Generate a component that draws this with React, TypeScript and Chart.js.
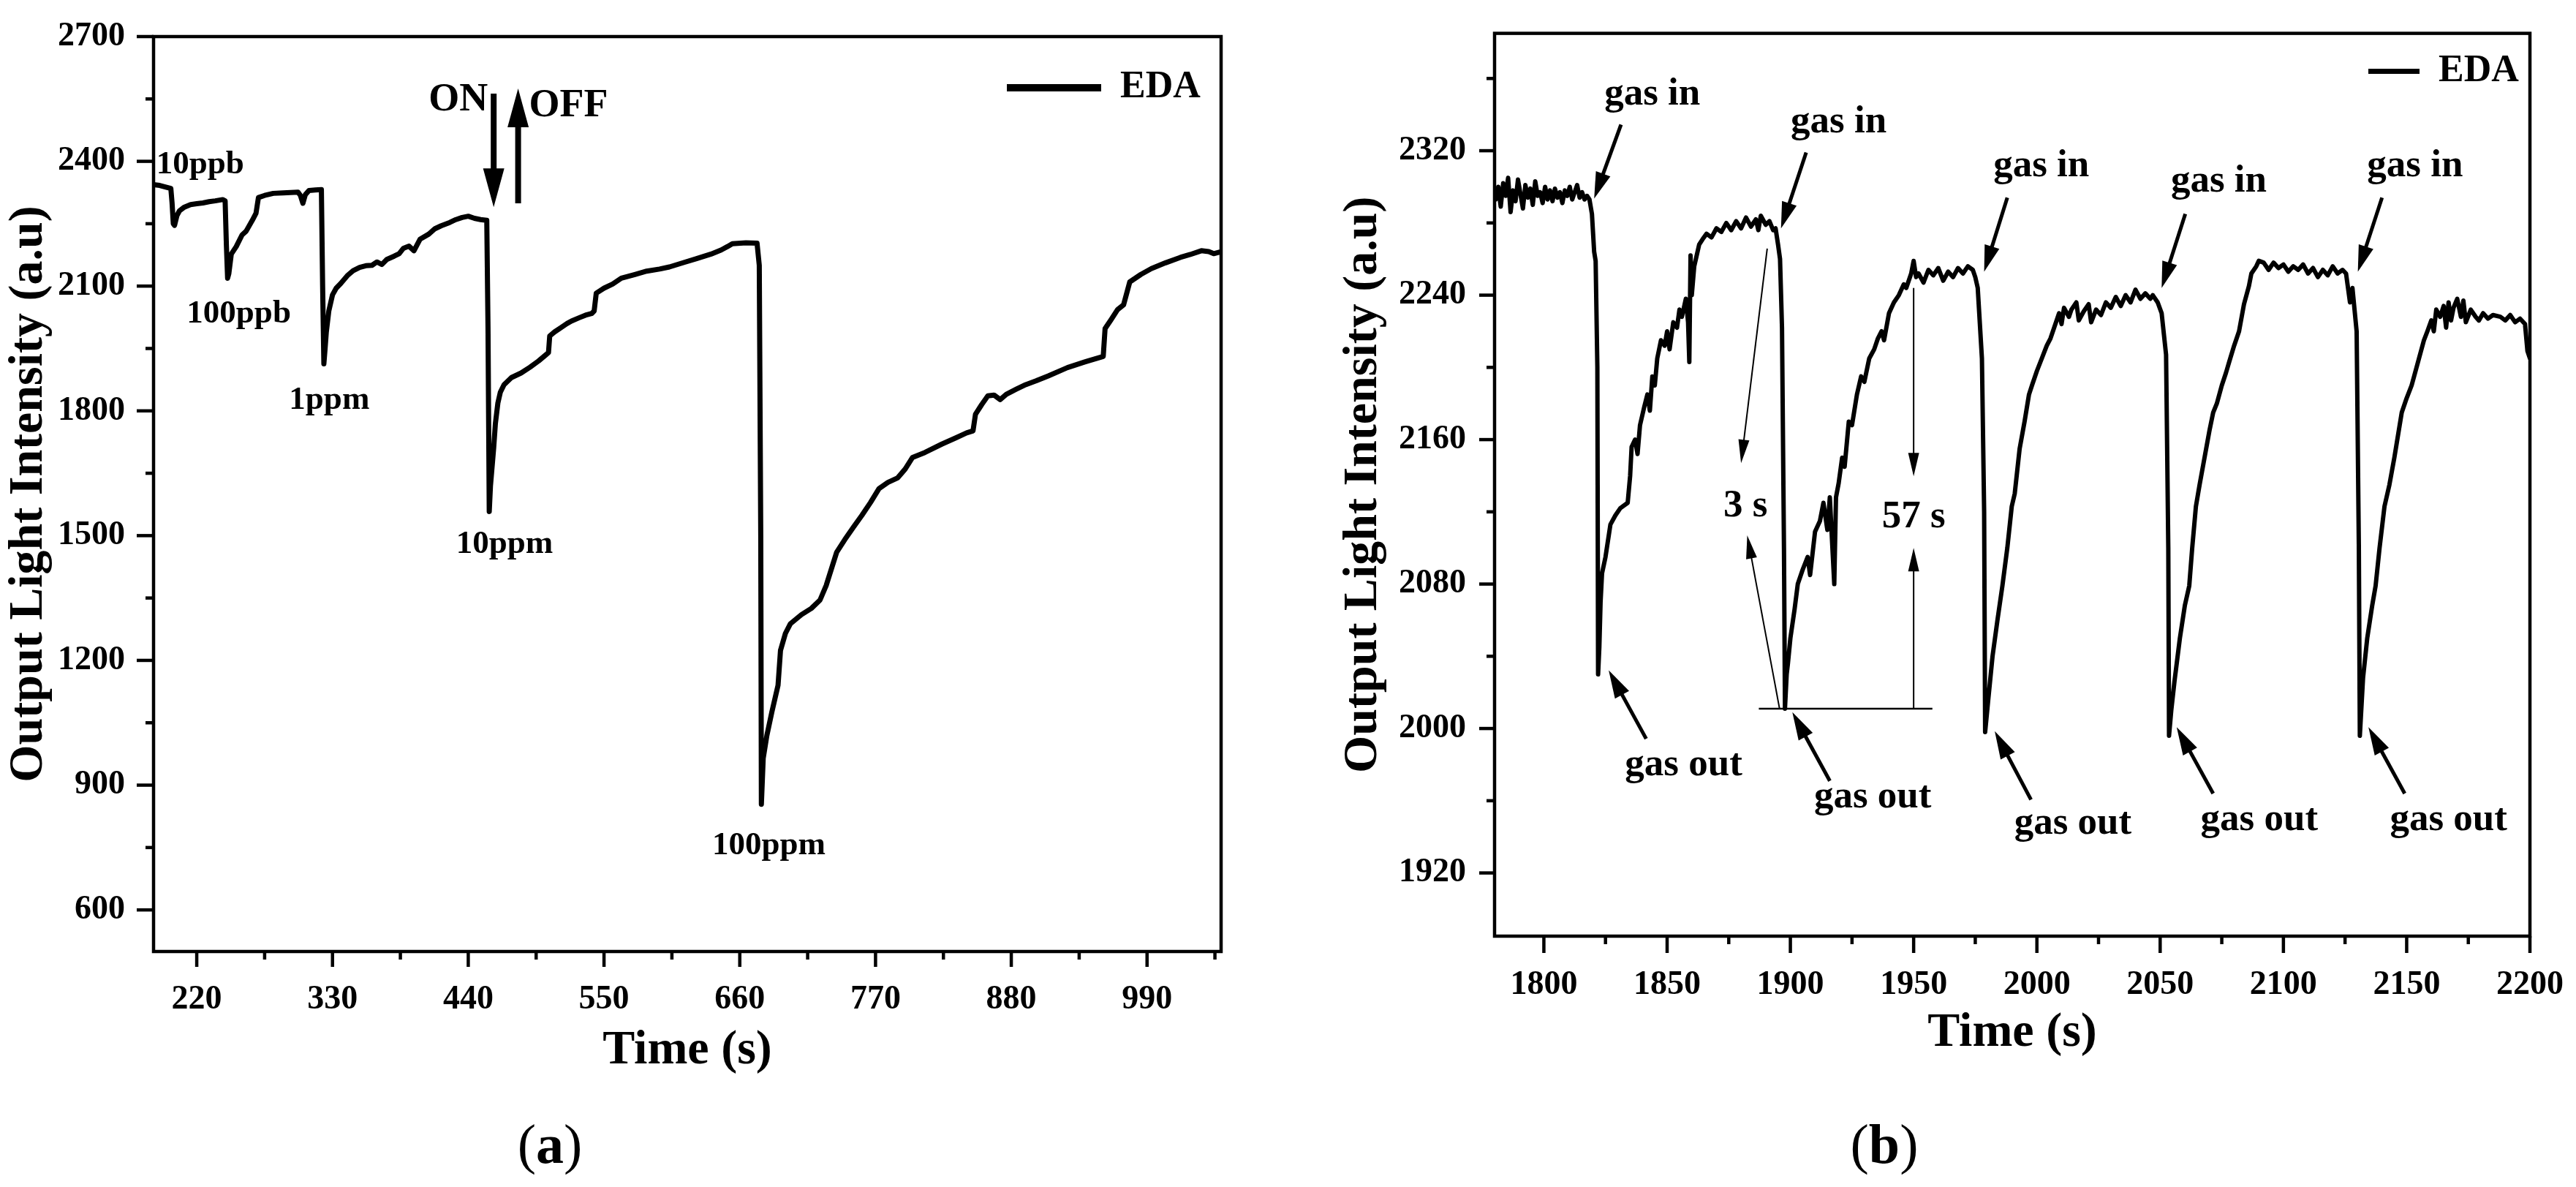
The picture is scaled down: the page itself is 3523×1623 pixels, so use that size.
import React, { useEffect, useRef } from 'react';
import { Chart, registerables } from 'chart.js';

Chart.register(...registerables);

const SERIF = '"Liberation Serif", "Times New Roman", serif';

// ---------------- Panel (a) data ----------------
const timeA = [
  185, 190, 195, 199, 200, 201, 202, 204, 206, 210, 215, 220, 225, 230, 235, 241,
  243, 244, 245, 246, 248, 252, 256.7, 260, 265, 268, 270, 275, 282, 290, 296, 302, 304, 306, 308, 311, 316, 321,
  322, 323, 324, 325, 327, 330, 333, 336.6, 342, 346.7, 352, 357, 362, 366, 370, 374, 380, 384, 387.5, 392, 396, 401, 408, 413, 418, 425, 430, 435, 440, 445, 450, 455,
  456, 457, 458, 460.6, 462, 464, 466, 469, 475, 482.8, 490, 497, 503, 505, 506, 510, 515, 520, 523.6, 530, 535, 540, 542, 543.7, 550, 557, 564, 575, 584.6, 595, 603, 615, 625, 636.7, 645, 650, 654, 665, 674,
  675.8, 677, 677.5, 679, 682, 686, 691, 693, 697, 701, 710, 718, 725, 730, 738.5, 745, 752, 759, 766, 772.8, 780, 788, 794, 800, 810, 823.7, 835, 843.8, 849, 851, 856, 861, 866, 871, 876, 884, 891.7, 900, 910, 925.5, 940, 954.5, 956, 961, 966, 971, 976, 985, 993.5, 1005, 1017, 1025, 1034, 1040, 1044, 1049,
];
const intensityA = [
  2344, 2342, 2338, 2335, 2300, 2250, 2246, 2270, 2281, 2290, 2296, 2298, 2300, 2303, 2305, 2308,
  2305, 2200, 2119, 2130, 2177, 2195, 2223, 2232, 2258, 2275, 2313, 2318, 2323, 2324, 2325, 2326, 2318, 2299, 2320, 2330, 2331, 2332,
  2100, 1913, 1950, 1990, 2040, 2079, 2095, 2106, 2125, 2137, 2145, 2149, 2150, 2158, 2152, 2164, 2172, 2178, 2191, 2196, 2185, 2213, 2225, 2238, 2245, 2253, 2260, 2265, 2268, 2263, 2260, 2258,
  2000, 1558, 1620, 1711, 1770, 1819, 1845, 1863, 1880, 1891, 1905, 1920, 1935, 1940, 1980, 1990, 2000, 2010, 2016, 2024, 2030, 2034, 2040, 2083, 2095, 2105, 2119, 2128, 2136, 2141, 2146, 2157, 2166, 2177, 2187, 2195, 2202, 2204, 2203,
  2150, 1500, 854, 965, 1020, 1076, 1140, 1224, 1265, 1288, 1310, 1325, 1345, 1380, 1460, 1490, 1520, 1549, 1580, 1613, 1628, 1639, 1660, 1688, 1700, 1720, 1735, 1747, 1752, 1792, 1815, 1836, 1838, 1827, 1840, 1852, 1863, 1872, 1884, 1904, 1918, 1931, 1998, 2020, 2043, 2055, 2110, 2128, 2142, 2156, 2169, 2176, 2185, 2183, 2178, 2182,
];
const xMajorA = [220, 330, 440, 550, 660, 770, 880, 990];
const xMinorA = [275, 385, 495, 605, 715, 825, 935, 1045];
const yMajorA = [600, 900, 1200, 1500, 1800, 2100, 2400, 2700];
const yMinorA = [750, 1050, 1350, 1650, 1950, 2250, 2550];

const noteTextA = ['10ppb', '100ppb', '1ppm', '10ppm', '100ppm'];
const noteTimeA = [222.8, 254.1, 327.4, 469.4, 683.6];
const noteLevelA = [2371, 2012, 1805, 1458, 734];
const switchTextA = ['ON', 'OFF'];
const switchTimeA = [431.9, 521.2];
const switchLevelA = [2523, 2508];
const switchArrowTimeA = [460.6, 480.4];
const switchArrowFromA = [2563, 2299];
const switchArrowToA = [2290, 2575];

// ---------------- Panel (b) data ----------------
const timeB = [
  1780.5, 1781.5, 1782.5, 1783.5, 1784.5, 1785.5, 1786.5, 1787.5, 1788.5, 1789.5, 1790.5, 1791.5, 1792.5, 1793.5, 1794.5, 1795.5, 1796.5, 1797.5, 1798.5, 1799.5, 1800.5, 1801.5, 1802.5, 1803.5, 1804.5, 1805.5, 1806.5, 1807.5, 1808.5, 1809.5, 1810.5, 1811.5, 1812.5, 1813.5, 1814.5, 1815.5, 1816.5, 1817.5, 1818.5,
  1819.5, 1820.4, 1821, 1821.7, 1822, 1822.5, 1823, 1823.6, 1825, 1827, 1829, 1831, 1834, 1835, 1835.6, 1837, 1838, 1839, 1840.7, 1842, 1843, 1844, 1845, 1846, 1847.5, 1849, 1850, 1851, 1852.5, 1854, 1855, 1856, 1857.6, 1858.5, 1859, 1859.5, 1860, 1861, 1862, 1863, 1864.4, 1866, 1868, 1870, 1872, 1874, 1876, 1878, 1880, 1882, 1884, 1886, 1887, 1888, 1890, 1891.5, 1893, 1894, 1895, 1895.8, 1896.6,
  1897.4, 1897.8, 1898.5, 1899, 1900, 1901.7, 1903, 1905, 1907, 1908, 1910, 1912, 1913.4, 1915, 1916, 1917.8, 1918.5, 1919.6, 1921, 1922, 1923.7, 1925, 1927, 1928.7, 1930, 1932, 1934, 1935.5, 1937, 1938, 1940, 1942, 1944, 1946, 1947, 1949, 1950, 1951, 1952, 1954, 1956, 1958, 1960, 1962, 1964, 1966, 1968, 1970, 1972, 1974, 1975, 1976, 1977.7,
  1978.6, 1979, 1980.2, 1982, 1984, 1986, 1988, 1989.8, 1991, 1993, 1995, 1996.8, 1998, 2000, 2002, 2004, 2005.5, 2007, 2009, 2010, 2011, 2013, 2014, 2016, 2017, 2019, 2021, 2022, 2024, 2026, 2028, 2030, 2032, 2034, 2036, 2038, 2040, 2042, 2044, 2046, 2047, 2049, 2050.6, 2052.4,
  2053.3, 2053.6, 2054.5, 2055.8, 2058, 2060, 2061.8, 2063, 2064.5, 2066, 2068, 2070, 2071.5, 2073, 2075, 2076.7, 2078, 2080, 2082, 2084, 2086, 2087, 2089, 2090, 2092, 2094, 2096, 2098, 2100, 2102, 2104, 2106, 2108, 2110, 2112, 2114, 2116, 2118, 2120, 2122, 2124, 2125.4, 2127, 2128, 2129.7,
  2130.6, 2131, 2132.3, 2134, 2136, 2137.4, 2139, 2141, 2143, 2145, 2148, 2150, 2152, 2153, 2155, 2157, 2158.4, 2160, 2161, 2162, 2163.6, 2165, 2166, 2167, 2168, 2169, 2170.5, 2172, 2173, 2174, 2176, 2178, 2179.3, 2181, 2183, 2185, 2188, 2190, 2192, 2194, 2196, 2198, 2199, 2200,
];
const intensityB = [
  2293, 2300, 2289, 2302, 2295, 2305, 2286, 2298, 2292, 2304, 2296, 2288, 2301, 2294, 2299, 2290, 2303, 2295, 2297, 2291, 2300, 2293, 2298, 2292, 2299, 2294, 2297, 2291, 2298, 2295, 2300, 2293, 2297, 2301, 2294, 2297, 2293, 2295, 2293,
  2285, 2264, 2259, 2200, 2030, 2045, 2070, 2086, 2095, 2113, 2118, 2122, 2125, 2140, 2156, 2160, 2152, 2168, 2178, 2185, 2176, 2195, 2190, 2205, 2215, 2212, 2220, 2210, 2225, 2222, 2232, 2228, 2238, 2225, 2203, 2262, 2240, 2256, 2262, 2268, 2271, 2274, 2272, 2277, 2275, 2280, 2276, 2281, 2277, 2283, 2278, 2282, 2276, 2284, 2279, 2281, 2276, 2277, 2268, 2260, 2222,
  2100, 2011, 2030, 2036, 2050, 2066, 2080, 2088, 2095, 2085, 2109, 2115, 2125, 2110, 2128, 2080, 2128, 2136, 2150, 2145, 2170, 2168, 2185, 2195, 2192, 2205, 2210, 2216, 2220, 2215, 2230, 2236, 2240, 2246, 2244, 2252, 2259, 2250, 2252, 2247, 2254, 2251, 2255, 2248, 2253, 2250, 2255, 2252, 2256, 2254, 2250, 2244, 2205,
  2120, 1998, 2015, 2040, 2060, 2079, 2100, 2123, 2130, 2155, 2170, 2185, 2190, 2198, 2205, 2212, 2216, 2222, 2230, 2224, 2233, 2228, 2232, 2236, 2226, 2231, 2235, 2225, 2232, 2229, 2236, 2233, 2239, 2234, 2240, 2236, 2243, 2238, 2241, 2238, 2240, 2236, 2230, 2207,
  2100, 1996, 2010, 2026, 2050, 2068, 2079, 2100, 2123, 2135, 2150, 2165, 2175, 2180, 2190, 2197, 2203, 2212, 2220, 2235, 2245, 2252, 2256, 2259, 2258, 2254, 2258, 2255, 2257, 2253, 2256, 2254, 2257, 2252, 2255, 2250, 2254, 2251, 2256, 2252, 2254, 2252, 2236, 2244, 2220,
  2100, 1996, 2028, 2050, 2068, 2079, 2100, 2123, 2135, 2150, 2175, 2183, 2190, 2195, 2205, 2215, 2220, 2226, 2220, 2232, 2228, 2234, 2222, 2236, 2226, 2233, 2238, 2228, 2237, 2225, 2232, 2228, 2226, 2230, 2227, 2229, 2228, 2226, 2229, 2225, 2227, 2224, 2209, 2205,
];
const xMajorB = [1800, 1850, 1900, 1950, 2000, 2050, 2100, 2150, 2200];
const xMinorB = [1825, 1875, 1925, 1975, 2025, 2075, 2125, 2175];
const yMajorB = [1920, 2000, 2080, 2160, 2240, 2320];
const yMinorB = [1960, 2040, 2120, 2200, 2280, 2360];

const gasInTimeB = [1844, 1919.6, 2001.8, 2073.8, 2153.4];
const gasInLevelB = [2345.7, 2330.2, 2305.7, 2297.5, 2305.7];
const gasInArrowFromB: [number, number][] = [[1831.3, 2334.5], [1906.4, 2319], [1988, 2294], [2060.2, 2285], [2140, 2294]];
const gasInArrowToB: [number, number][] = [[1820.4, 2293.5], [1896.2, 2277], [1978.6, 2253], [2050.6, 2244], [2130.2, 2253]];
const gasOutTimeB = [1856.7, 1933.4, 2014.6, 2090.2, 2167];
const gasOutLevelB = [1974.3, 1956.3, 1941.7, 1943.7, 1943.7];
const gasOutArrowFromB: [number, number][] = [[1841.5, 1994.3], [1916, 1971], [1997.6, 1960.6], [2071.5, 1964], [2149.2, 1964]];
const gasOutArrowToB: [number, number][] = [[1826.3, 2032.2], [1900.8, 2009], [1982.9, 1998.5], [2056.7, 2000.7], [2134.5, 2000.7]];
const baseLineB: [number, number][] = [[1887.2, 2011], [1957.6, 2011]];
const responseTextB = ['3 s', '57 s'];
const responseTimeB = [1881.8, 1950];
const responseLevelB = [2117.6, 2111.6];
const responseArrowFromB: [number, number][] = [[1890.6, 2265.8], [1895.6, 2011], [1950, 2244], [1950, 2011]];
const responseArrowToB: [number, number][] = [[1880, 2147], [1882.5, 2107], [1950, 2139.7], [1950, 2100]];

// ---------------- drawing helpers ----------------
function drawArrow(ctx: CanvasRenderingContext2D, x1: number, y1: number, x2: number, y2: number, w: number, hl: number, hw: number) {
  const dx = x2 - x1, dy = y2 - y1;
  const len = Math.hypot(dx, dy) || 1;
  const ux = dx / len, uy = dy / len;
  const bx = x2 - ux * hl, by = y2 - uy * hl;
  ctx.lineWidth = w;
  ctx.lineCap = 'butt';
  ctx.beginPath();
  ctx.moveTo(x1, y1);
  ctx.lineTo(bx + ux * 2, by + uy * 2);
  ctx.stroke();
  ctx.beginPath();
  ctx.moveTo(x2, y2);
  ctx.lineTo(bx - uy * hw / 2, by + ux * hw / 2);
  ctx.lineTo(bx + uy * hw / 2, by - ux * hw / 2);
  ctx.closePath();
  ctx.fill();
}

type Decor = {
  frameWidth: number; tickWidth: number; xTickLen: number; yTickLen: number; minorLen: number;
  xMinor: number[]; yMinor: number[];
  legendInset: number;
  texts: { text: string; x: number; y: number; size: number }[];
  arrows: { from: [number, number]; to: [number, number]; width: number; headLen: number; headWidth: number }[];
  lines: { from: [number, number]; to: [number, number]; width: number }[];
};

function makeDecorPlugin(d: Decor) {
  return {
    id: 'decor',
    afterLayout(chart: any) {
      // place the (chart-area) legend in the top-right corner of the plot frame
      const lg = chart.legend;
      if (!lg) return;
      const pad = lg.options.labels.padding;
      const area = chart.chartArea;
      lg.left = area.right - d.legendInset - pad;
      lg.right = area.right;
      lg.top = area.top;
      lg.bottom = area.bottom;
    },
    afterDraw(chart: any) {
      const { ctx, chartArea: a, scales } = chart;
      const xs = scales.x, ys = scales.y;
      const px = (v: number) => xs.getPixelForValue(v);
      const py = (v: number) => ys.getPixelForValue(v);
      const seg = (x1: number, y1: number, x2: number, y2: number) => {
        ctx.beginPath(); ctx.moveTo(x1, y1); ctx.lineTo(x2, y2); ctx.stroke();
      };
      ctx.save();
      ctx.strokeStyle = '#000';
      ctx.fillStyle = '#000';
      ctx.lineJoin = 'miter';
      ctx.lineWidth = d.frameWidth;
      ctx.strokeRect(a.left, a.top, a.right - a.left, a.bottom - a.top);
      ctx.lineCap = 'butt';
      ctx.lineWidth = d.tickWidth;
      xs.ticks.forEach((t: any) => { const p = px(t.value); seg(p, a.bottom, p, a.bottom + d.xTickLen); });
      d.xMinor.forEach((v) => { const p = px(v); seg(p, a.bottom, p, a.bottom + d.minorLen); });
      ys.ticks.forEach((t: any) => { const p = py(t.value); seg(a.left, p, a.left - d.yTickLen, p); });
      d.yMinor.forEach((v) => { const p = py(v); seg(a.left, p, a.left - d.minorLen, p); });
      d.lines.forEach((l) => { ctx.lineWidth = l.width; seg(px(l.from[0]), py(l.from[1]), px(l.to[0]), py(l.to[1])); });
      d.arrows.forEach((ar) => drawArrow(ctx, px(ar.from[0]), py(ar.from[1]), px(ar.to[0]), py(ar.to[1]), ar.width, ar.headLen, ar.headWidth));
      ctx.textAlign = 'center';
      ctx.textBaseline = 'alphabetic';
      d.texts.forEach((t) => {
        ctx.font = `bold ${t.size}px ${SERIF}`;
        ctx.fillText(t.text, px(t.x), py(t.y));
      });
      ctx.restore();
    },
  };
}

const TICK_FONT = { family: SERIF, weight: 'bold' as const, size: 46 };
const TITLE_FONT = { family: SERIF, weight: 'bold' as const, size: 66 };
const LEGEND_FONT = { family: SERIF, weight: 'bold' as const, size: 52 };

function makeConfig(p: {
  time: number[]; values: number[]; lineWidth: number;
  xMin: number; xMax: number; yMin: number; yMax: number;
  xMajor: number[]; yMajor: number[];
  xTickLen: number; yTickLen: number; xPad: number; yPad: number;
  yAxisWidth: number; xAxisHeight: number;
  padding: { left: number; top: number; right: number; bottom: number };
  legendLine: number; legendLineWidth: number; legendPad: number;
}) {
  return {
    type: 'line',
    data: {
      datasets: [{
        label: 'EDA',
        data: p.time.map((t, i) => ({ x: t, y: p.values[i] })),
        borderColor: '#000',
        backgroundColor: '#000',
        borderWidth: p.lineWidth,
        pointRadius: 0,
        tension: 0,
        fill: false,
        borderJoinStyle: 'round',
        borderCapStyle: 'round',
      }],
    },
    options: {
      animation: false,
      responsive: false,
      maintainAspectRatio: false,
      events: [],
      layout: { padding: p.padding },
      scales: {
        x: {
          type: 'linear',
          min: p.xMin,
          max: p.xMax,
          afterBuildTicks: (s: any) => { s.ticks = p.xMajor.map((v) => ({ value: v })); },
          afterFit: (s: any) => { s.height = p.xAxisHeight; },
          grid: { display: false, drawTicks: true, tickLength: p.xTickLen },
          border: { display: false },
          ticks: { autoSkip: false, maxRotation: 0, minRotation: 0, padding: p.xPad, font: TICK_FONT, color: '#000', callback: (v: any) => String(v) },
          title: { display: true, text: 'Time (s)', font: TITLE_FONT, color: '#000', padding: 0 },
        },
        y: {
          type: 'linear',
          min: p.yMin,
          max: p.yMax,
          afterBuildTicks: (s: any) => { s.ticks = p.yMajor.map((v) => ({ value: v })); },
          afterFit: (s: any) => { s.width = p.yAxisWidth; },
          grid: { display: false, drawTicks: true, tickLength: p.yTickLen },
          border: { display: false },
          ticks: { autoSkip: false, padding: p.yPad, font: TICK_FONT, color: '#000', callback: (v: any) => String(v) },
          title: { display: true, text: 'Output Light Intensity (a.u)', font: TITLE_FONT, color: '#000', padding: 0 },
        },
      },
      plugins: {
        tooltip: { enabled: false },
        legend: {
          display: true,
          position: 'chartArea',
          align: 'start',
          labels: {
            usePointStyle: true,
            pointStyleWidth: p.legendLine,
            padding: p.legendPad,
            font: LEGEND_FONT,
            color: '#000',
            generateLabels: () => [{
              text: 'EDA', strokeStyle: '#000', fillStyle: '#000', fontColor: '#000',
              lineWidth: p.legendLineWidth, pointStyle: 'line', hidden: false, datasetIndex: 0, lineCap: 'butt',
            }],
          },
        },
      },
    },
  };
}

function configA() {
  const cfg: any = makeConfig({
    time: timeA, values: intensityA, lineWidth: 7,
    xMin: 185, xMax: 1050, yMin: 500, yMax: 2700,
    xMajor: xMajorA, yMajor: yMajorA,
    xTickLen: 21, yTickLen: 23, xPad: 18, yPad: 16,
    yAxisWidth: 210, xAxisHeight: 176,
    padding: { left: 0, top: 50, right: 90, bottom: 0 },
    legendLine: 129, legendLineWidth: 10, legendPad: 44,
  });
  const decor: Decor = {
    frameWidth: 4.5, tickWidth: 4.5, xTickLen: 21, yTickLen: 23, minorLen: 11,
    xMinor: xMinorA, yMinor: yMinorA,
    legendInset: 293,
    texts: [
      ...noteTextA.map((t, i) => ({ text: t, x: noteTimeA[i], y: noteLevelA[i], size: 45 })),
      ...switchTextA.map((t, i) => ({ text: t, x: switchTimeA[i], y: switchLevelA[i], size: 54 })),
    ],
    arrows: switchArrowTimeA.map((t, i) => ({
      from: [t, switchArrowFromA[i]] as [number, number], to: [t, switchArrowToA[i]] as [number, number],
      width: 8, headLen: 53, headWidth: 29,
    })),
    lines: [],
  };
  cfg.plugins = [makeDecorPlugin(decor)];
  return cfg;
}

function configB() {
  const cfg: any = makeConfig({
    time: timeB, values: intensityB, lineWidth: 6,
    xMin: 1780, xMax: 2200, yMin: 1885, yMax: 2385,
    xMajor: xMajorB, yMajor: yMajorB,
    xTickLen: 23, yTickLen: 21, xPad: 17, yPad: 18,
    yAxisWidth: 219, xAxisHeight: 173,
    padding: { left: 0, top: 37, right: 58, bottom: 0 },
    legendLine: 70, legendLineWidth: 7, legendPad: 26,
  });
  const decor: Decor = {
    frameWidth: 4.5, tickWidth: 4.5, xTickLen: 23, yTickLen: 21, minorLen: 11,
    xMinor: xMinorB, yMinor: yMinorB,
    legendInset: 221,
    texts: [
      ...gasInTimeB.map((t, i) => ({ text: 'gas in', x: t, y: gasInLevelB[i], size: 53 })),
      ...gasOutTimeB.map((t, i) => ({ text: 'gas out', x: t, y: gasOutLevelB[i], size: 53 })),
      ...responseTextB.map((t, i) => ({ text: t, x: responseTimeB[i], y: responseLevelB[i], size: 53 })),
    ],
    arrows: [
      ...gasInArrowFromB.map((f, i) => ({ from: f, to: gasInArrowToB[i], width: 5, headLen: 36, headWidth: 21 })),
      ...gasOutArrowFromB.map((f, i) => ({ from: f, to: gasOutArrowToB[i], width: 5, headLen: 38, headWidth: 22 })),
      ...responseArrowFromB.map((f, i) => ({ from: f, to: responseArrowToB[i], width: 2, headLen: 32, headWidth: 15 })),
    ],
    lines: [{ from: baseLineB[0], to: baseLineB[1], width: 2.5 }],
  };
  cfg.plugins = [makeDecorPlugin(decor)];
  return cfg;
}

function ChartCanvas({ make, left, top, width, height }: { make: () => any; left: number; top: number; width: number; height: number }) {
  const ref = useRef<HTMLCanvasElement>(null);
  useEffect(() => {
    const chart = new Chart(ref.current as HTMLCanvasElement, make());
    return () => chart.destroy();
  }, []);
  return (
    <canvas
      ref={ref}
      width={width}
      height={height}
      style={{ position: 'absolute', left, top, width, height, display: 'block' }}
    />
  );
}

function PanelTag({ letter, centerX, baseline }: { letter: string; centerX: number; baseline: number }) {
  return (
    <div
      style={{
        position: 'absolute', left: centerX - 100, width: 200, top: baseline - 64,
        textAlign: 'center', fontFamily: SERIF, fontSize: 76, lineHeight: '76px', color: '#000',
      }}
    >
      <span>(</span><b>{letter}</b><span>)</span>
    </div>
  );
}

export default function App() {
  useEffect(() => {
    document.body.style.margin = '0';
    document.body.style.overflow = 'hidden';
  }, []);
  return (
    <div style={{ position: 'fixed', left: 0, top: 0, width: 3523, height: 1623, background: '#fff', overflow: 'hidden' }}>
      <ChartCanvas make={configA} left={0} top={0} width={1760} height={1477} />
      <ChartCanvas make={configB} left={1825} top={0} width={1698} height={1453} />
      <PanelTag letter="a" centerX={752} baseline={1590} />
      <PanelTag letter="b" centerX={2577} baseline={1590} />
    </div>
  );
}
